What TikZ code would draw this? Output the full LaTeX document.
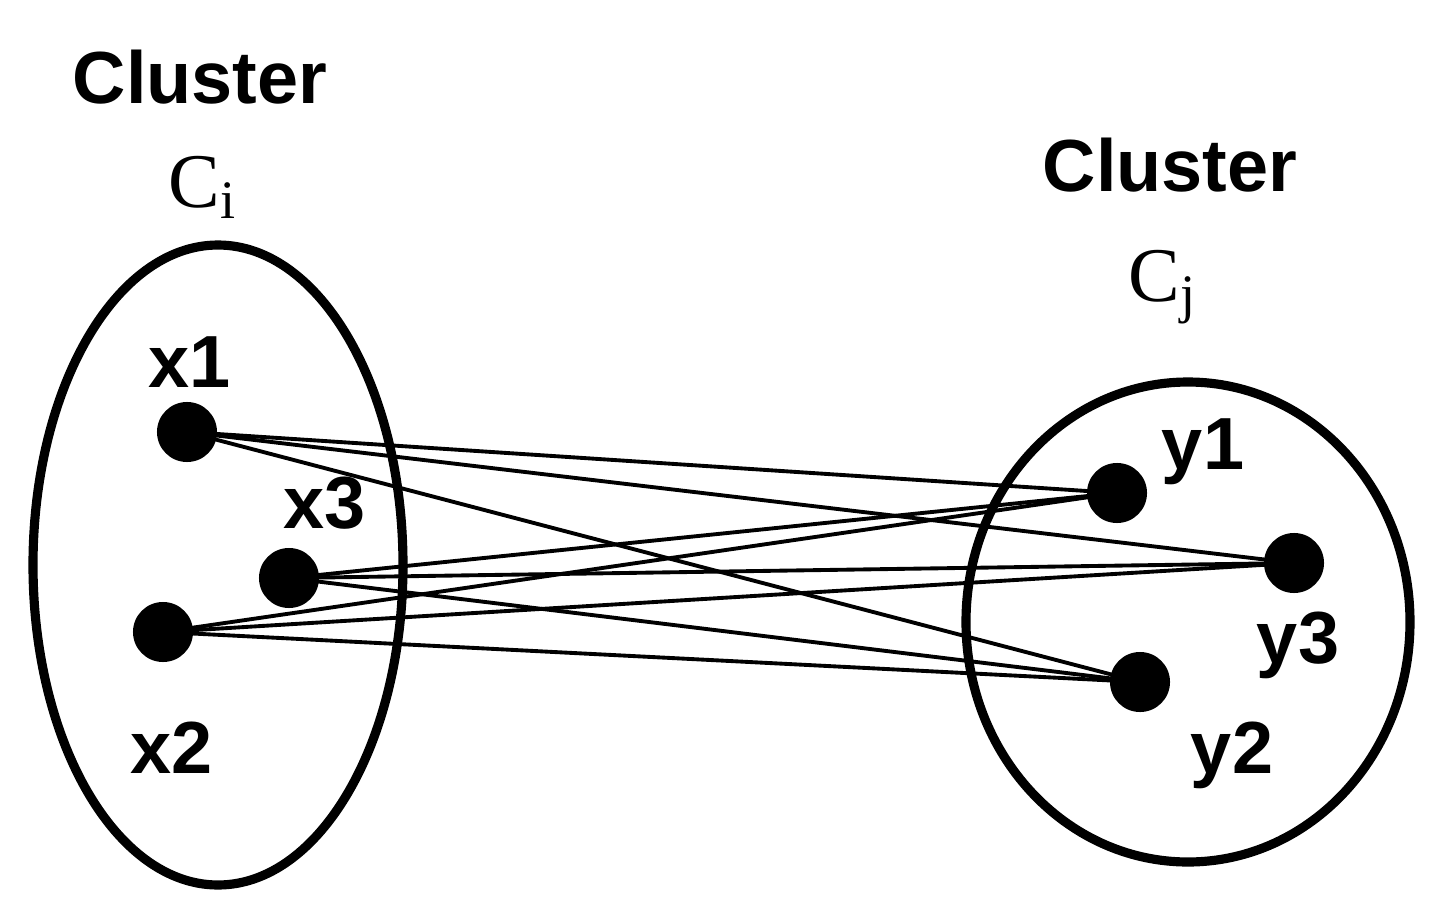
\documentclass[tikz,border=0pt]{standalone}
\usepackage{fontspec}
\setmainfont{Liberation Serif}
\newfontfamily\lbl{Liberation Sans}
\begin{document}
\begin{tikzpicture}[x=0.01cm,y=-0.01cm,
  dot/.style={circle,fill=black,minimum size=0.6cm,inner sep=0pt},
  lab/.style={font=\lbl\bfseries\fontsize{21}{21}\selectfont},
  edge/.style={line width=1.1pt}]
\useasboundingbox (0,0) rectangle (1451,921);
\draw[line width=2.6pt] (218,565) ellipse [x radius=185, y radius=320];
\draw[line width=2.6pt] (1188,622) ellipse [x radius=222, y radius=240];
\node[dot] (x1) at (187,432) {};
\node[dot] (x3) at (289,578) {};
\node[dot] (x2) at (163,632) {};
\node[dot] (y1) at (1117,493) {};
\node[dot] (y3) at (1294,563) {};
\node[dot] (y2) at (1140,682) {};
\foreach \a in {x1,x2,x3}
  \foreach \b in {y1,y2,y3}
    \draw[edge] (\a.center) -- (\b.center);
\node[lab] at (190,362) {x1};
\node[lab] at (325,503) {x3};
\node[lab] at (172,748) {x2};
\node[lab] at (1203,452) {y1};
\node[lab] at (1298,645) {y3};
\node[lab] at (1232,755) {y2};
\node[lab] at (200,77) {Cluster};
\node[lab] at (1170,165) {Cluster};
\node[font=\fontsize{22}{22}\selectfont] at (203,187) {C\textsubscript{i}};
\node[font=\fontsize{22}{22}\selectfont] at (1163,287) {C\textsubscript{j}};
\end{tikzpicture}
\end{document}
